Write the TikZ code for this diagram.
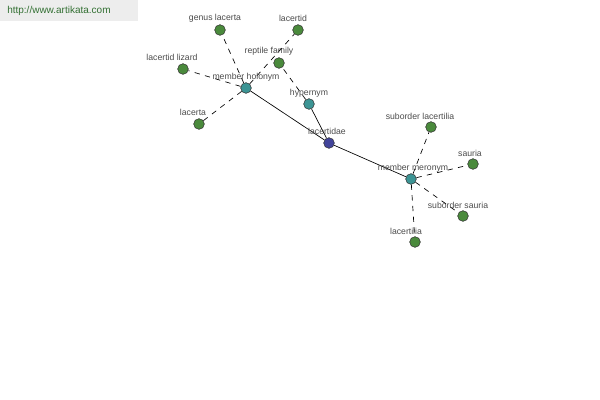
\documentclass[tikz,border=0pt]{standalone}
\usepackage{fontspec}
\setmainfont{Liberation Sans}
\definecolor{leafgreen}{HTML}{4A8A3C}
\definecolor{hubteal}{HTML}{3C9494}
\definecolor{rootblue}{HTML}{42449A}
\begin{document}
\begin{tikzpicture}[x=0.75pt,y=-0.75pt,
  dot/.style={circle,draw=black!80,line width=0.4pt,inner sep=0pt,minimum size=8pt},
  leaf/.style={dot,fill=leafgreen},
  hub/.style={dot,fill=hubteal},
  root/.style={dot,fill=rootblue},
  lbl/.style={font=\fontsize{6.5}{7}\selectfont,text=black!70,inner sep=0pt},
  solidedge/.style={draw=black,line width=0.5pt},
  dashedge/.style={draw=black,line width=0.5pt,dash pattern=on 4pt off 4pt}]
\useasboundingbox (0,0) rectangle (600,400);
\fill[white] (0,0) rectangle (600,400);
\fill[black!7] (0,0) rectangle (138,21);
\node[anchor=west,font=\fontsize{7.5}{9}\selectfont,text=green!30!black!80,inner sep=0pt] (wm) at (7,11) {http://www.artikata.com};
% nodes
\node[hub]  (mh) at (246,88) {};
\node[hub]  (hy) at (309,104) {};
\node[root] (la) at (329,143) {};
\node[hub]  (mm) at (411,179) {};
\node[leaf] (gl) at (220,30) {};
\node[leaf] (ld) at (298,30) {};
\node[leaf] (rf) at (279,63) {};
\node[leaf] (ll) at (183,69) {};
\node[leaf] (lc) at (199,124) {};
\node[leaf] (sl) at (431,127) {};
\node[leaf] (sa) at (473,164) {};
\node[leaf] (ss) at (463,216) {};
\node[leaf] (lt) at (415,242) {};
% edges
\path[solidedge] (la) -- (mh);
\path[solidedge] (la) -- (hy);
\path[solidedge] (la) -- (mm);
\path[dashedge] (mh) -- (gl);
\path[dashedge] (mh) -- (ld);
\path[dashedge] (mh) -- (ll);
\path[dashedge] (mh) -- (lc);
\path[dashedge] (hy) -- (rf);
\path[dashedge] (mm) -- (sl);
\path[dashedge] (mm) -- (sa);
\path[dashedge] (mm) -- (ss);
\path[dashedge] (mm) -- (lt);
% labels
\node[lbl] (tmh) at (246,77) {member holonym};
\node[lbl] (thy) at (309,93) {hypernym};
\node[lbl] (tla) at (327,131) {lacertidae};
\node[lbl] (tmm) at (413,168) {member meronym};
\node[lbl] (tgl) at (215,18) {genus lacerta};
\node[lbl] (tld) at (293,18) {lacertid};
\node[lbl] (trf) at (269,51) {reptile family};
\node[lbl] (tll) at (172,57) {lacertid lizard};
\node[lbl] (tlc) at (193,112) {lacerta};
\node[lbl] (tsl) at (420,116) {suborder lacertilia};
\node[lbl] (tsa) at (470,153) {sauria};
\node[lbl] (tss) at (458,205) {suborder sauria};
\node[lbl] (tlt) at (406,231) {lacertilia};
\end{tikzpicture}
\end{document}
